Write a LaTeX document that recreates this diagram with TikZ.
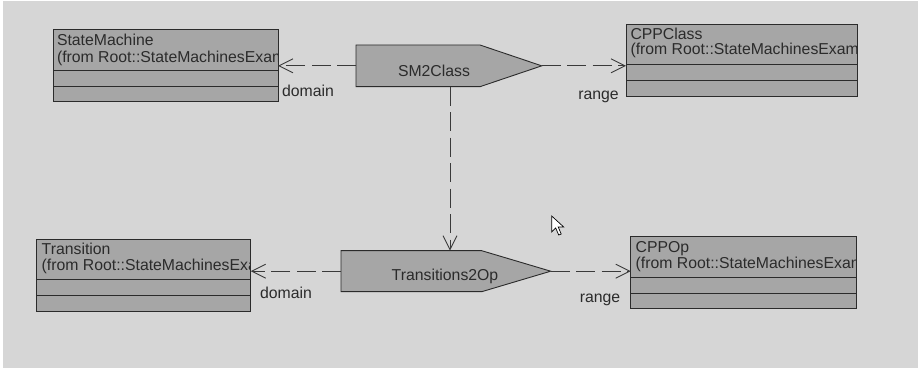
\documentclass[tikz,border=0pt]{standalone}
\usepackage{fontspec}
\setmainfont{Liberation Sans}
\usetikzlibrary{arrows.meta,calc}
\definecolor{bg}{HTML}{D6D6D6}
\definecolor{boxfill}{HTML}{A6A6A6}
\definecolor{ink}{HTML}{2B2B2B}
\definecolor{dashink}{HTML}{3A3A3A}
\tikzset{
  every node/.style={outer sep=0pt, inner sep=0pt, text=ink},
  classbox/.style={draw=ink, fill=boxfill, line width=0.9pt, rectangle, anchor=north west, minimum height=72pt},
  divider/.style={draw=ink, line width=0.9pt},
  trafo/.style={draw=ink, fill=boxfill, line width=0.9pt},
  dep/.style={draw=dashink, line width=1pt, dash pattern=on 19pt off 6.5pt,
    -{Straight Barb[length=14pt,width=14pt,line width=0.9pt]}},
  lbl/.style={text=ink},
}
\begin{document}
\begin{tikzpicture}[x=1pt,y=-1pt,font=\fontsize{15.8}{18}\selectfont]
\useasboundingbox (0,0) rectangle (918,371);
\fill[white] (0,0) rectangle (918,371);
\fill[bg] (3,1) rectangle (918,368);

% class boxes
\node[classbox, minimum width=225pt] (sm) at (53,29.5) {};
\node[classbox, minimum width=231pt] (cc) at (626,24) {};
\node[classbox, minimum width=214pt] (tr) at (36.7,239) {};
\node[classbox, minimum width=225.3pt] (op) at (630.7,236.7) {};

\foreach \b in {sm,cc,tr,op}{
  \draw[divider] ($(\b.north west)+(0,40.5)$) -- ($(\b.north east)+(0,40.5)$);
  \draw[divider] ($(\b.north west)+(0,56.5)$) -- ($(\b.north east)+(0,56.5)$);
}

\begin{scope}
\clip (sm.north west) rectangle (sm.south east);
\node[anchor=base west] (smA) at ($(sm.north west)+(4,16)$) {StateMachine};
\node[anchor=base west] (smB) at ($(sm.north west)+(4,33)$) {(from Root::StateMachinesExam};
\end{scope}
\begin{scope}
\clip (cc.north west) rectangle (cc.south east);
\node[anchor=base west] (ccA) at ($(cc.north west)+(4.5,16)$) {CPPClass};
\node[anchor=base west] (ccB) at ($(cc.north west)+(4.5,31)$) {(from Root::StateMachinesExam};
\end{scope}
\begin{scope}
\clip (tr.north west) rectangle (tr.south east);
\node[anchor=base west] (trA) at ($(tr.north west)+(5,16)$) {Transition};
\node[anchor=base west] (trB) at ($(tr.north west)+(5,32)$) {(from Root::StateMachinesExam};
\end{scope}
\begin{scope}
\clip (op.north west) rectangle (op.south east);
\node[anchor=base west] (opA) at ($(op.north west)+(5,16)$) {CPPOp};
\node[anchor=base west] (opB) at ($(op.north west)+(5,32)$) {(from Root::StateMachinesExam};
\end{scope}

% transformation shapes
\node[minimum width=124pt, minimum height=41.7pt, anchor=north west] (sm2c) at (356,45) {};
\coordinate (sm2ctip) at ($(sm2c.east)+(61.7,0)$);
\draw[trafo] (sm2c.north west) -- (sm2c.north east) -- (sm2ctip) -- (sm2c.south east) -- (sm2c.south west) -- cycle;
\node (sm2cT) at (434,71) {SM2Class};

\node[minimum width=140.7pt, minimum height=41pt, anchor=north west] (t2o) at (341,250.7) {};
\coordinate (t2otip) at ($(t2o.east)+(69,0)$);
\draw[trafo] (t2o.north west) -- (t2o.north east) -- (t2otip) -- (t2o.south east) -- (t2o.south west) -- cycle;
\node (t2oT) at (445,276.5) {Transitions2Op};

% connectors
\coordinate (vx) at (450,0);
\draw[dep] (sm2c.west) -- (sm2c.west -| sm.east);
\draw[dep] (sm2ctip) -- (sm2ctip -| cc.west);
\draw[dep] (sm2c.south -| vx) -- (t2o.north -| vx);
\draw[dep] (t2o.west) -- (t2o.west -| tr.east);
\draw[dep] (t2otip) -- (t2otip -| op.west);

% labels
\node[lbl] (d1) at (308,91) {domain};
\node[lbl] (r1) at (598.5,97) {range};
\node[lbl] (d2) at (286,293) {domain};
\node[lbl] (r2) at (600,299.5) {range};

% mouse pointer
\draw[fill=white, draw=black, line width=0.7pt, line join=miter]
  (551.7,216) -- ++(0,16) -- ++(4,-4) -- ++(3,7) -- ++(2.5,-1) -- ++(-3,-7) -- ++(5.5,0) -- cycle;
\end{tikzpicture}
\end{document}
